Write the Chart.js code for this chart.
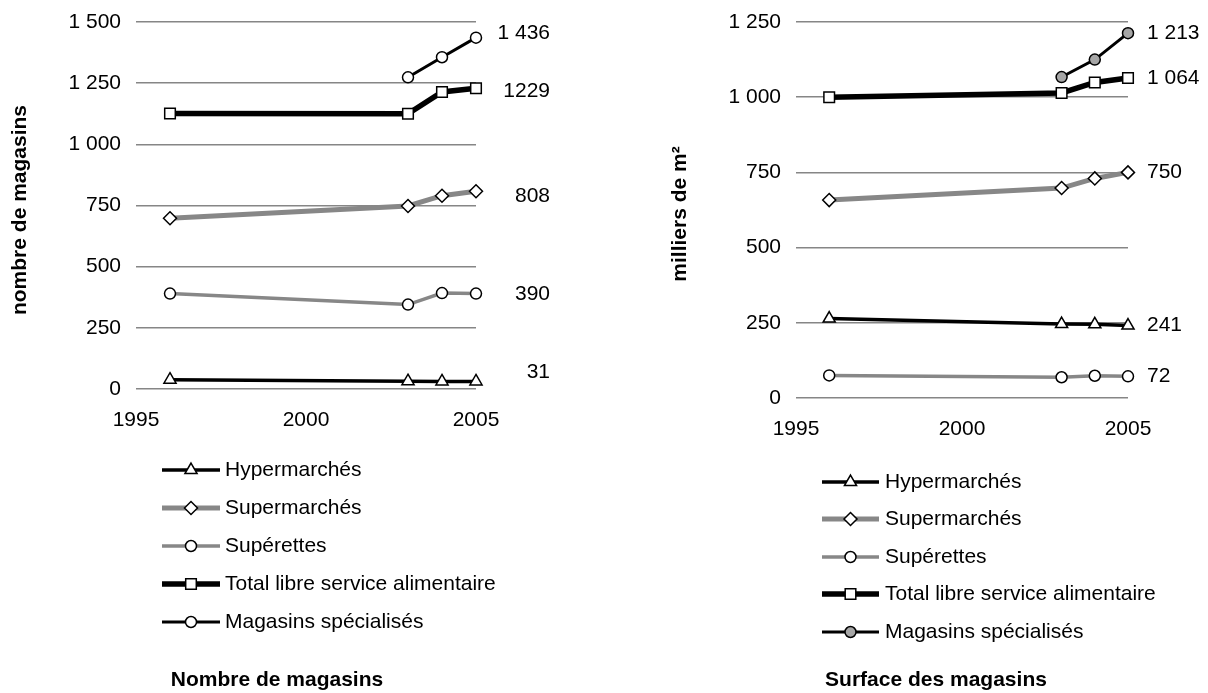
<!DOCTYPE html>
<html>
<head>
<meta charset="utf-8">
<script src="https://cdn.jsdelivr.net/npm/chart.js@4/dist/chart.umd.min.js"></script>
<style>
  html, body { margin: 0; padding: 0; background: #ffffff; }
  #wrap { position: relative; width: 1208px; height: 693px; overflow: hidden; }
  canvas { position: absolute; top: 0; }
  #nombre { left: 0; }
  #surface { left: 604px; }
</style>
</head>
<body>
<div id="wrap">
  <canvas id="nombre" width="604" height="693"></canvas>
  <canvas id="surface" width="604" height="693"></canvas>
</div>
<script>
// ---- data ----
const years = [1996, 2003, 2004, 2005];
const seriesNames = ['Hypermarchés', 'Supermarchés', 'Supérettes', 'Total libre service alimentaire', 'Magasins spécialisés'];
const xTicks = [1995, 2000, 2005];

// number of stores
const hyperNombre      = [38, 32, 31, 31];
const superNombre      = [698, 748, 790, 808];
const superettesNombre = [390, 345, 392, 390];
const totalNombre      = [1126, 1125, 1214, 1229];
const specNombre       = [null, 1274, 1356, 1436];
const yTicksNombre     = [0, 250, 500, 750, 1000, 1250, 1500];

// sales area (thousands of m²)
const hyperSurface      = [264, 246, 245, 241];
const superSurface      = [658, 698, 730, 750];
const superettesSurface = [75, 69, 74, 72];
const totalSurface      = [1000, 1014, 1049, 1064];
const specSurface       = [null, 1067, 1125, 1213];
const yTicksSurface     = [0, 250, 500, 750, 1000, 1250];

// ---- helpers ----
const FONT = '"Liberation Sans", Arial, Helvetica, sans-serif';
const GRID = '#868686';
const GREY = '#878787';

function frNumber(v) {
  if (v >= 1000) return Math.floor(v / 1000) + ' ' + String(v % 1000).padStart(3, '0');
  return String(v);
}
function points(values) {
  const out = [];
  values.forEach((v, i) => { if (v !== null) out.push({ x: years[i], y: v }); });
  return out;
}

// series appearance: line colour/width, marker
const looks = [
  { color: '#000000', width: 3.5, style: 'triangle', radius: 7 },
  { color: GREY,      width: 5,   style: 'rectRot',  radius: 6.5 },
  { color: GREY,      width: 3.5, style: 'circle',   radius: 5.5 },
  { color: '#000000', width: 5.5, style: 'rect',     radius: 7.5 },
  { color: '#000000', width: 3,   style: 'circle',   radius: 5.5 }
];

function buildDatasets(seriesValues, specFill, plainIndex) {
  return seriesValues.map((vals, i) => ({
    label: seriesNames[i],
    data: points(vals),
    borderColor: looks[i].color,
    borderWidth: looks[i].width,
    pointStyle: looks[i].style,
    pointRadius: looks[i].radius,
    pointHoverRadius: looks[i].radius,
    pointBackgroundColor: i === 4 ? specFill : '#ffffff',
    pointBorderColor: '#000000',
    pointBorderWidth: 1.5,
    tension: 0,
    fill: false,
    clip: false,
    plainLabel: i === plainIndex
  }));
}

// value labels, legend block, caption and y title
const decor = {
  id: 'decor',
  afterDraw(chart, args, o) {
    const ctx = chart.ctx;
    const xs = chart.scales.x, ys = chart.scales.y;
    ctx.save();

    // end-of-series value labels
    ctx.font = '21px ' + FONT;
    ctx.fillStyle = '#000';
    ctx.textBaseline = 'middle';
    ctx.textAlign = o.labelAlign;
    chart.data.datasets.forEach((ds, i) => {
      const last = ds.data[ds.data.length - 1];
      const px = xs.getPixelForValue(last.x);
      const py = ys.getPixelForValue(last.y);
      const txt = ds.plainLabel ? String(last.y) : frNumber(last.y);
      ctx.fillText(txt, px + o.labelDx, py + (o.labelDy[i] || 0));
    });

    // legend
    chart.data.datasets.forEach((ds, i) => {
      const y = o.legendY[i];
      ctx.beginPath();
      ctx.strokeStyle = ds.borderColor;
      ctx.lineWidth = ds.borderWidth;
      ctx.lineCap = 'butt';
      ctx.moveTo(o.legendX0, y);
      ctx.lineTo(o.legendX1, y);
      ctx.stroke();
      ctx.fillStyle = ds.pointBackgroundColor;
      ctx.strokeStyle = ds.pointBorderColor;
      ctx.lineWidth = ds.pointBorderWidth;
      Chart.helpers.drawPoint(ctx, {
        pointStyle: ds.pointStyle,
        radius: ds.pointRadius,
        borderWidth: ds.pointBorderWidth,
        rotation: 0
      }, (o.legendX0 + o.legendX1) / 2, y);
      ctx.fillStyle = '#000';
      ctx.font = '21px ' + FONT;
      ctx.textAlign = 'left';
      ctx.textBaseline = 'middle';
      ctx.fillText(ds.label, o.legendTextX, y);
    });

    // caption below the legend
    ctx.font = 'bold 21px ' + FONT;
    ctx.textAlign = 'center';
    ctx.fillText(o.caption, o.captionX, o.captionY);

    // rotated y-axis title
    ctx.translate(o.yTitleX, o.yTitleY);
    ctx.rotate(-Math.PI / 2);
    ctx.fillText(o.yTitle, 0, 0);
    ctx.restore();
  }
};

function makeChart(id, datasets, yMax, yTicks, box, deco) {
  return new Chart(document.getElementById(id), {
    type: 'line',
    data: { datasets },
    plugins: [decor],
    options: {
      responsive: false,
      animation: false,
      devicePixelRatio: 1,
      layout: { padding: box },
      plugins: {
        legend: { display: false },
        title: { display: false },
        tooltip: { enabled: false },
        decor: deco
      },
      scales: {
        x: {
          type: 'linear',
          min: xTicks[0],
          max: xTicks[xTicks.length - 1],
          afterBuildTicks: s => { s.ticks = xTicks.map(v => ({ value: v })); },
          afterFit: s => { s.height = 40; s.paddingLeft = 0; s.paddingRight = 0; },
          grid: { display: false, drawTicks: false, tickLength: 0 },
          border: { display: false },
          ticks: {
            padding: 19,
            maxRotation: 0,
            color: '#000',
            font: { family: FONT, size: 21 },
            callback: v => String(v)
          }
        },
        y: {
          type: 'linear',
          min: 0,
          max: yMax,
          afterBuildTicks: s => { s.ticks = yTicks.map(v => ({ value: v })); },
          afterFit: s => { s.width = 100; s.paddingTop = 0; s.paddingBottom = 0; },
          grid: { color: GRID, lineWidth: 1.5, drawTicks: false, tickLength: 0 },
          border: { display: false },
          ticks: {
            padding: 15,
            color: '#000',
            font: { family: FONT, size: 21 },
            callback: v => frNumber(v)
          }
        }
      }
    }
  });
}

// left: number of stores
makeChart('nombre',
  buildDatasets([hyperNombre, superNombre, superettesNombre, totalNombre, specNombre], '#ffffff', 3),
  1500, yTicksNombre,
  { left: 36, right: 128, top: 22, bottom: 264 },
  {
    labelAlign: 'right', labelDx: 74, labelDy: [-9, 5, 1, 3, -4],
    legendY: [470, 508, 546, 584, 622], legendX0: 162, legendX1: 220, legendTextX: 225,
    caption: 'Nombre de magasins', captionX: 277, captionY: 680,
    yTitle: 'nombre de magasins', yTitleX: 20, yTitleY: 210
  });

// right: sales area
makeChart('surface',
  buildDatasets([hyperSurface, superSurface, superettesSurface, totalSurface, specSurface], '#a6a6a6', -1),
  1250, yTicksSurface,
  { left: 92, right: 80, top: 22, bottom: 255 },
  {
    labelAlign: 'left', labelDx: 19, labelDy: [0, 0, 0, 0, 0],
    legendY: [482, 519, 557, 594, 632], legendX0: 218, legendX1: 275, legendTextX: 281,
    caption: 'Surface des magasins', captionX: 332, captionY: 680,
    yTitle: 'milliers de m²', yTitleX: 76, yTitleY: 214
  });
</script>
</body>
</html>
